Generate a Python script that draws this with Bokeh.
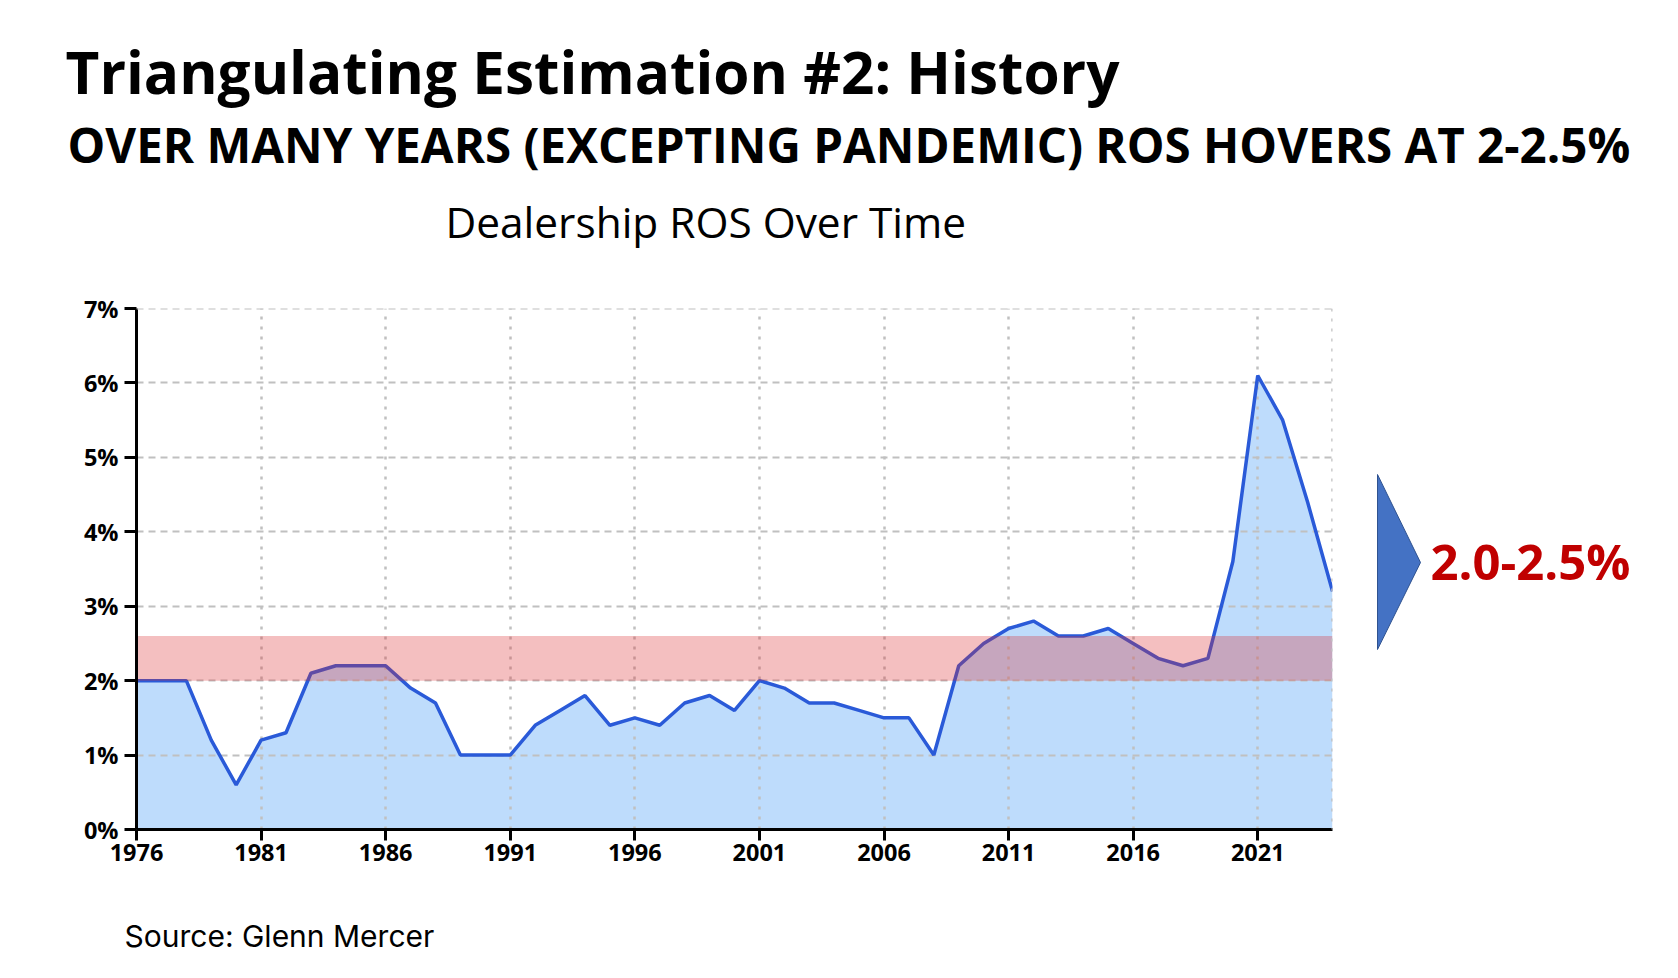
from bokeh.plotting import figure
from bokeh.layouts import column, row
from bokeh.models import Range1d, FixedTicker, PrintfTickFormatter, Span
from bokeh.core.properties import value
from bokeh.embed import file_html
from bokeh.resources import INLINE

# ---- data ----
years = list(range(1976, 2025))
ros = [2.0, 2.0, 2.0, 1.2, 0.6, 1.2, 1.3, 2.1, 2.2, 2.2, 2.2, 1.9, 1.7, 1.0, 1.0,
       1.0, 1.4, 1.6, 1.8, 1.4, 1.5, 1.4, 1.7, 1.8, 1.6, 2.0, 1.9, 1.7, 1.7, 1.6,
       1.5, 1.5, 1.0, 2.2, 2.5, 2.7, 2.8, 2.6, 2.6, 2.7, 2.5, 2.3, 2.2, 2.3, 3.6,
       6.1, 5.5, 4.4, 3.2]
band_low = 2.0
band_high = 2.6
x_ticks = list(range(1976, 2022, 5))
y_ticks = list(range(0, 8))

title_text = "Triangulating Estimation #2: History"
subtitle_text = "OVER MANY YEARS (EXCEPTING PANDEMIC) ROS HOVERS AT 2-2.5%"
chart_title_text = "Dealership ROS Over Time"
source_text = "Source: Glenn Mercer"
callout_text = "2.0-2.5%"

# ---- layout geometry (page pixels) ----
W, H = 1678, 978
TOP_H = 280          # header strip height
CHART_W = 1350       # chart figure width
CHART_H = 610        # chart figure height
FL, FR = 136, 1332   # frame left/right
FT, FB = 308, 829    # frame top/bottom
BOT_H = H - TOP_H - CHART_H
x0, x1 = years[0], years[-1]
y0, y1 = 0, 7


def blank_fig(w, h, xr, yr, top=0, bottom=0):
    f = figure(width=w, height=h, output_backend="svg", toolbar_location=None,
               x_range=xr, y_range=yr, x_axis_type=None, y_axis_type=None,
               min_border_left=0, min_border_right=0,
               min_border_top=top, min_border_bottom=bottom, title=None)
    f.outline_line_color = None
    f.grid.visible = False
    f.background_fill_color = "white"
    f.border_fill_color = "white"
    return f


def put_text(f, txt, px, baseline, font, size, style="normal", color="black", k=0.388):
    # correction so that the glyph baseline lands on `baseline`
    f.text(x=[px], y=[baseline - k * size], text=[txt], text_font=value(font),
           text_font_size=f"{size}px", text_font_style=style, text_color=color,
           text_align="left", text_baseline="alphabetic")


# ---- header (page coords 0..TOP_H) ----
top = blank_fig(W, TOP_H, Range1d(0, W), Range1d(TOP_H, 0))
put_text(top, title_text, 65, 93, "Open Sans", 58.5, "bold")
put_text(top, subtitle_text, 67, 162, "Open Sans", 47.5, "bold")
put_text(top, chart_title_text, 445, 237, "Open Sans", 42.4)

# ---- chart ----
p = figure(width=CHART_W, height=CHART_H, output_backend="svg", toolbar_location=None,
           x_range=Range1d(x0, x1), y_range=Range1d(y0, y1),
           min_border_left=FL, min_border_right=CHART_W - FR,
           min_border_top=FT - TOP_H, min_border_bottom=TOP_H + CHART_H - FB,
           title=None)
p.outline_line_color = None
p.background_fill_color = "white"
p.border_fill_color = "white"

p.varea(x=years, y1=[0] * len(years), y2=ros, fill_color="#bedcfc", level="image")
p.line(years, ros, line_color="#2a5ad8", line_width=3.5)
p.quad(left=[years[0]], right=[years[-1]], bottom=[band_low], top=[band_high],
       fill_color="#da2a2d", fill_alpha=0.3, line_color=None)

grid_col = "#c0c0c0"
p.xgrid.ticker = FixedTicker(ticks=list(range(1981, 2022, 5)))
p.xgrid.grid_line_color = grid_col
p.xgrid.grid_line_width = 2.5
p.xgrid.grid_line_dash = "3 7"
p.ygrid.ticker = FixedTicker(ticks=list(range(1, 7)))
p.ygrid.grid_line_color = grid_col
p.ygrid.grid_line_width = 2
p.ygrid.grid_line_dash = "7 5"

p.add_layout(Span(location=y1, dimension="width", line_color=grid_col,
                  line_width=2, line_dash="7 5", level="guide"))
p.add_layout(Span(location=x1, dimension="height", line_color=grid_col,
                  line_width=2.5, line_dash="3 7", level="guide"))

for ax in (p.xaxis[0], p.yaxis[0]):
    ax.axis_line_color = "black"
    ax.axis_line_width = 3
    ax.major_tick_line_color = "black"
    ax.major_tick_line_width = 3
    ax.major_tick_in = 0
    ax.minor_tick_line_color = None
    ax.major_label_text_font = "Open Sans"
    ax.major_label_text_font_style = "bold"
    ax.major_label_text_font_size = "23.5px"
    ax.major_label_text_color = "black"

p.xaxis.ticker = FixedTicker(ticks=x_ticks)
p.xaxis.major_tick_out = 11
p.xaxis.major_label_standoff = 3
p.yaxis.ticker = FixedTicker(ticks=y_ticks)
p.yaxis.formatter = PrintfTickFormatter(format="%d%%")
p.yaxis.major_tick_out = 12
p.yaxis.major_label_standoff = 6

# ---- callout (page coords; frame aligned with the chart frame) ----
side = blank_fig(W - CHART_W, CHART_H, Range1d(CHART_W, W), Range1d(FB, FT),
                 top=FT - TOP_H, bottom=TOP_H + CHART_H - FB)
side.patch(x=[1377, 1377, 1420], y=[474, 649, 562],
           fill_color="#4472c4", line_color="#2f528f", line_width=1)
put_text(side, callout_text, 1430, 580, "Open Sans", 49, "bold", "#c00000")

# ---- footer (page coords) ----
bot = blank_fig(W, BOT_H, Range1d(0, W), Range1d(H, TOP_H + CHART_H))
put_text(bot, source_text, 124, 946, "Inter", 30, k=0.364)

layout = column(top, row(p, side, spacing=0), bot, spacing=0)
open("out.html", "w").write(file_html(layout, INLINE))
